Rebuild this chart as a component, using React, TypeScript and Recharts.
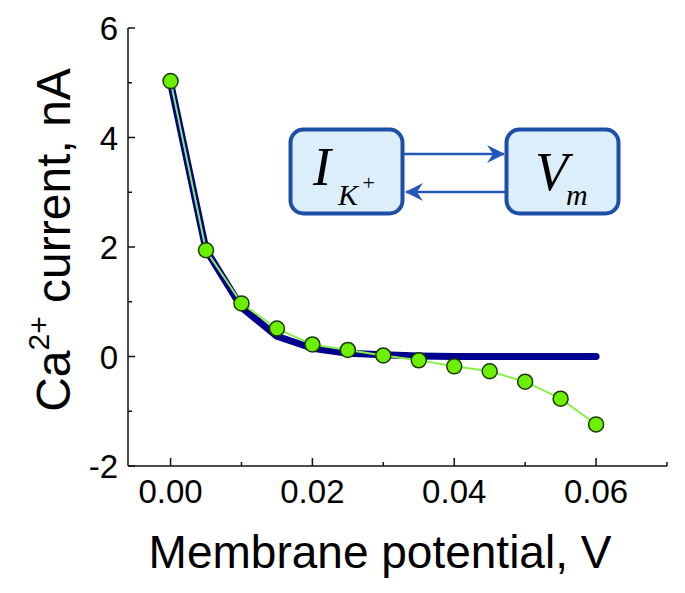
import React from 'react';
import { LineChart, Line, XAxis, YAxis } from 'recharts';

const voltage = [0, 0.005, 0.01, 0.015, 0.02, 0.025, 0.03, 0.035, 0.04, 0.045, 0.05, 0.055, 0.06];
const measuredCurrent = [5.03, 1.94, 0.97, 0.51, 0.22, 0.12, 0.02, -0.07, -0.18, -0.27, -0.46, -0.77, -1.24];
const modelCurrent = [5.0, 1.95, 0.9, 0.37, 0.15, 0.06, 0.03, 0.01, 0, 0, 0, 0, 0];

const xTicks = [0, 0.01, 0.02, 0.03, 0.04, 0.05, 0.06, 0.07];
const xLabeled = [0, 0.02, 0.04, 0.06];
const yTicks = [-2, -1, 0, 1, 2, 3, 4, 5, 6];
const yLabeled = [-2, 0, 2, 4, 6];

const data = voltage.map((v, i) => ({ v, measured: measuredCurrent[i], model: modelCurrent[i] }));

const FONT = '"Liberation Sans", Arial, sans-serif';
const SERIF = '"Liberation Serif", "Times New Roman", serif';

const XTick = (props: any) => {
  const { x, y, payload } = props;
  const major = xLabeled.some((t) => Math.abs(t - payload.value) < 1e-9);
  return (
    <g>
      <line x1={x} x2={x} y1={y} y2={y - (major ? 8 : 4)} stroke="#111" strokeWidth={1.5} />
      {major && (
        <text x={x} y={y + 37} textAnchor="middle" fontFamily={FONT} fontSize={33} fill="#000">
          {payload.value.toFixed(2)}
        </text>
      )}
    </g>
  );
};

const YTick = (props: any) => {
  const { x, y, payload } = props;
  const major = yLabeled.includes(payload.value);
  return (
    <g>
      <line x1={x} x2={x + (major ? 7 : 4)} y1={y} y2={y} stroke="#111" strokeWidth={1.5} />
      {major && (
        <text x={x - 10} y={y + 12} textAnchor="end" fontFamily={FONT} fontSize={33} fill="#000">
          {payload.value}
        </text>
      )}
    </g>
  );
};

export default function App() {
  return (
    <div style={{ position: 'absolute', left: 0, top: 0, width: 685, height: 593, background: '#fff' }}>
      <LineChart width={685} height={593} data={data} margin={{ top: 28, right: 18, bottom: 0, left: 0 }}>
        <XAxis
          type="number"
          dataKey="v"
          domain={[-0.006, 0.07]}
          ticks={xTicks}
          interval={0}
          height={127}
          tickSize={0}
          tickMargin={0}
          tick={<XTick />}
          axisLine={{ stroke: '#111', strokeWidth: 1.5 }}
          allowDataOverflow
        />
        <YAxis
          type="number"
          domain={[-2, 6]}
          ticks={yTicks}
          interval={0}
          width={128}
          tickSize={0}
          tickMargin={0}
          tick={<YTick />}
          axisLine={{ stroke: '#111', strokeWidth: 1.5 }}
        />
        <Line
          type="linear"
          dataKey="model"
          stroke="#00008F"
          strokeWidth={7}
          strokeLinecap="round"
          strokeLinejoin="round"
          dot={false}
          isAnimationActive={false}
        />
        <Line
          type="linear"
          dataKey="measured"
          stroke="#8CF04A"
          strokeWidth={2}
          dot={{ r: 7.5, fill: '#6CF000', stroke: '#1A3A00', strokeWidth: 1.5 }}
          activeDot={false}
          isAnimationActive={false}
        />
      </LineChart>
      <svg width={685} height={593} style={{ position: 'absolute', left: 0, top: 0, pointerEvents: 'none' }}>
        <defs>
          <marker id="ah" viewBox="0 0 18 18" refX="17" refY="9" markerWidth="18" markerHeight="18" markerUnits="userSpaceOnUse" orient="auto">
            <path d="M0,0 L18,9 L0,18 L6,9 Z" fill="#2458B8" />
          </marker>
        </defs>
        <rect x={290.5} y={129.5} width={112} height={84} rx={13} fill="#DDEEFB" stroke="#1E4FA8" strokeWidth={4} />
        <rect x={506.5} y={129.5} width={112} height={84} rx={13} fill="#DDEEFB" stroke="#1E4FA8" strokeWidth={4} />
        <line x1={404} y1={154} x2={504} y2={154} stroke="#2458B8" strokeWidth={2.5} markerEnd="url(#ah)" />
        <line x1={505} y1={192} x2={406} y2={192} stroke="#2458B8" strokeWidth={2.5} markerEnd="url(#ah)" />
        <text fontFamily={SERIF} fontStyle="italic" fill="#000">
          <tspan x={313} y={185} fontSize={54}>I</tspan>
          <tspan x={338} y={205} fontSize={30}>K</tspan>
          <tspan x={361} y={190} fontSize={22}>+</tspan>
        </text>
        <text fontFamily={SERIF} fontStyle="italic" fill="#000">
          <tspan x={535} y={190} fontSize={54}>V</tspan>
          <tspan x={566} y={205} fontSize={30}>m</tspan>
        </text>
        <text x={380} y={568} textAnchor="middle" fontFamily={FONT} fontSize={46} fill="#000">
          Membrane potential, V
        </text>
        <text transform="translate(70,240) rotate(-90)" textAnchor="middle" fontFamily={FONT} fontSize={48} fill="#000">
          Ca<tspan fontSize={30} dy={-21}>2+</tspan>
          <tspan dy={21}> current, nA</tspan>
        </text>
      </svg>
    </div>
  );
}
